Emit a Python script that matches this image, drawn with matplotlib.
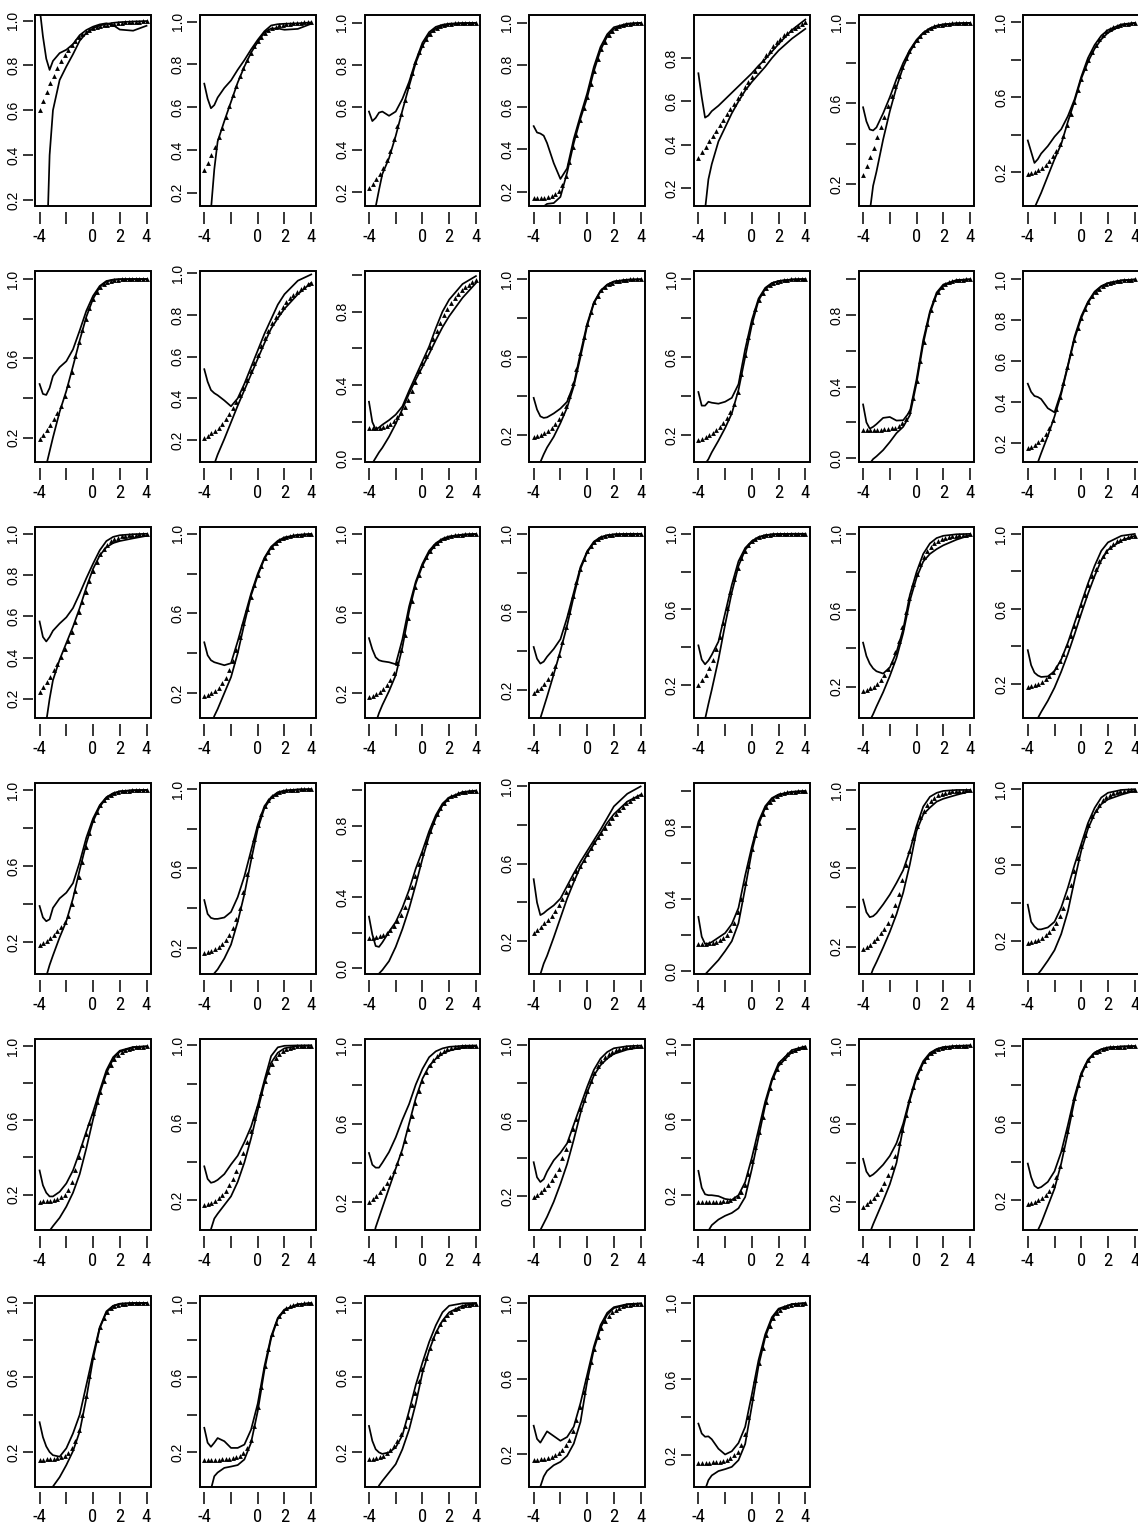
import numpy as np
import matplotlib
matplotlib.use("Agg")
import matplotlib.pyplot as plt
from matplotlib import font_manager as fm
from matplotlib.font_manager import FontProperties
from matplotlib.patches import Rectangle

# ---------------- data ----------------
x_lines = [-4, -3.75, -3.5, -3.25, -3, -2.5, -2, -1.5, -1, -0.5, 0, 0.5, 1, 1.5, 2, 3, 4]
x_points = np.linspace(-4, 4, 31)
x_ticks = [-4, -2, 0, 2, 4]
x_ticklabels = ["-4", "", "0", "2", "4"]

upper_band = [
    [1.06, 0.93, 0.83, 0.78, 0.82, 0.855, 0.87, 0.895, 0.935, 0.958, 0.973, 0.983, 0.988, 0.98, 0.96, 0.955, 0.977],
    [0.71, 0.64, 0.595, 0.61, 0.645, 0.69, 0.725, 0.775, 0.82, 0.87, 0.915, 0.955, 0.982, 0.988, 0.99, 0.992, 0.996],
    [0.58, 0.535, 0.55, 0.575, 0.58, 0.56, 0.58, 0.64, 0.72, 0.82, 0.905, 0.955, 0.98, 0.99, 0.995, 0.998, 0.999],
    [0.51, 0.48, 0.475, 0.465, 0.43, 0.335, 0.26, 0.31, 0.45, 0.56, 0.665, 0.79, 0.885, 0.945, 0.978, 0.995, 0.999],
    [0.73, 0.62, 0.525, 0.535, 0.555, 0.58, 0.61, 0.64, 0.67, 0.70, 0.73, 0.765, 0.795, 0.83, 0.865, 0.93, 0.978],
    [0.58, 0.51, 0.47, 0.465, 0.48, 0.55, 0.63, 0.72, 0.80, 0.865, 0.915, 0.95, 0.972, 0.985, 0.992, 0.997, 0.999],
    [0.37, 0.31, 0.25, 0.27, 0.30, 0.34, 0.39, 0.43, 0.50, 0.59, 0.71, 0.81, 0.88, 0.93, 0.96, 0.99, 0.998],
    [0.47, 0.42, 0.415, 0.45, 0.51, 0.555, 0.585, 0.645, 0.74, 0.84, 0.915, 0.965, 0.99, 0.997, 0.999, 1.0, 1.0],
    [0.54, 0.48, 0.44, 0.425, 0.415, 0.39, 0.362, 0.40, 0.47, 0.55, 0.63, 0.71, 0.78, 0.85, 0.90, 0.965, 0.995],
    [0.31, 0.20, 0.16, 0.17, 0.185, 0.21, 0.24, 0.285, 0.37, 0.45, 0.53, 0.61, 0.71, 0.80, 0.865, 0.95, 0.993],
    [0.39, 0.33, 0.295, 0.287, 0.29, 0.31, 0.335, 0.37, 0.46, 0.62, 0.77, 0.88, 0.94, 0.972, 0.988, 0.997, 0.999],
    [0.42, 0.35, 0.35, 0.37, 0.365, 0.36, 0.37, 0.39, 0.46, 0.64, 0.79, 0.90, 0.955, 0.98, 0.99, 0.998, 1.0],
    [0.30, 0.20, 0.165, 0.175, 0.19, 0.225, 0.23, 0.21, 0.212, 0.26, 0.44, 0.66, 0.82, 0.925, 0.97, 0.995, 0.999],
    [0.49, 0.45, 0.43, 0.425, 0.415, 0.37, 0.35, 0.45, 0.58, 0.72, 0.82, 0.89, 0.94, 0.967, 0.982, 0.995, 0.999],
    [0.575, 0.50, 0.478, 0.50, 0.53, 0.565, 0.595, 0.64, 0.71, 0.785, 0.855, 0.92, 0.965, 0.985, 0.993, 0.998, 1.0],
    [0.455, 0.39, 0.365, 0.355, 0.35, 0.34, 0.35, 0.46, 0.58, 0.70, 0.80, 0.88, 0.935, 0.965, 0.982, 0.995, 0.999],
    [0.476, 0.42, 0.38, 0.365, 0.36, 0.355, 0.345, 0.47, 0.635, 0.76, 0.85, 0.915, 0.953, 0.975, 0.987, 0.996, 0.999],
    [0.42, 0.36, 0.335, 0.345, 0.37, 0.41, 0.46, 0.57, 0.70, 0.83, 0.91, 0.96, 0.983, 0.993, 0.997, 1.0, 1.0],
    [0.41, 0.335, 0.31, 0.33, 0.36, 0.43, 0.58, 0.73, 0.855, 0.925, 0.962, 0.983, 0.993, 0.997, 0.999, 1.0, 1.0],
    [0.43, 0.36, 0.32, 0.295, 0.28, 0.268, 0.30, 0.38, 0.50, 0.68, 0.80, 0.895, 0.95, 0.978, 0.99, 0.998, 1.0],
    [0.38, 0.30, 0.26, 0.245, 0.237, 0.24, 0.268, 0.33, 0.42, 0.525, 0.63, 0.735, 0.83, 0.91, 0.955, 0.99, 1.0],
    [0.39, 0.33, 0.31, 0.32, 0.38, 0.43, 0.46, 0.51, 0.62, 0.75, 0.85, 0.92, 0.962, 0.983, 0.993, 0.999, 1.0],
    [0.44, 0.37, 0.35, 0.345, 0.345, 0.352, 0.38, 0.455, 0.56, 0.69, 0.82, 0.915, 0.96, 0.985, 0.993, 0.999, 1.0],
    [0.29, 0.19, 0.125, 0.12, 0.145, 0.205, 0.26, 0.34, 0.44, 0.56, 0.66, 0.77, 0.86, 0.925, 0.96, 0.99, 0.998],
    [0.52, 0.40, 0.335, 0.345, 0.36, 0.385, 0.42, 0.485, 0.55, 0.61, 0.665, 0.72, 0.775, 0.835, 0.895, 0.96, 0.998],
    [0.30, 0.19, 0.15, 0.152, 0.16, 0.185, 0.21, 0.26, 0.35, 0.53, 0.69, 0.83, 0.915, 0.96, 0.98, 0.995, 0.999],
    [0.44, 0.375, 0.35, 0.355, 0.37, 0.415, 0.465, 0.525, 0.59, 0.69, 0.815, 0.915, 0.965, 0.985, 0.995, 1.0, 1.0],
    [0.39, 0.30, 0.275, 0.26, 0.26, 0.27, 0.30, 0.375, 0.48, 0.60, 0.71, 0.82, 0.90, 0.955, 0.98, 0.995, 0.999],
    [0.33, 0.25, 0.21, 0.19, 0.19, 0.215, 0.26, 0.33, 0.43, 0.54, 0.645, 0.76, 0.87, 0.94, 0.975, 0.995, 0.999],
    [0.375, 0.31, 0.29, 0.295, 0.305, 0.335, 0.385, 0.43, 0.50, 0.58, 0.69, 0.82, 0.945, 0.99, 0.998, 1.0, 1.0],
    [0.45, 0.39, 0.375, 0.375, 0.40, 0.455, 0.53, 0.62, 0.70, 0.80, 0.88, 0.94, 0.97, 0.985, 0.993, 0.998, 1.0],
    [0.38, 0.30, 0.275, 0.29, 0.33, 0.39, 0.43, 0.48, 0.58, 0.68, 0.78, 0.87, 0.93, 0.965, 0.985, 0.996, 0.999],
    [0.33, 0.24, 0.205, 0.20, 0.20, 0.195, 0.18, 0.175, 0.20, 0.27, 0.40, 0.55, 0.70, 0.82, 0.905, 0.975, 0.995],
    [0.42, 0.355, 0.33, 0.34, 0.355, 0.39, 0.435, 0.50, 0.60, 0.73, 0.845, 0.92, 0.962, 0.982, 0.992, 0.998, 1.0],
    [0.39, 0.32, 0.275, 0.262, 0.268, 0.295, 0.35, 0.45, 0.59, 0.74, 0.86, 0.93, 0.967, 0.984, 0.993, 0.998, 1.0],
    [0.36, 0.28, 0.23, 0.20, 0.183, 0.175, 0.22, 0.30, 0.40, 0.56, 0.72, 0.87, 0.955, 0.985, 0.996, 1.0, 1.0],
    [0.33, 0.25, 0.228, 0.25, 0.275, 0.258, 0.222, 0.222, 0.24, 0.32, 0.46, 0.66, 0.82, 0.92, 0.965, 0.993, 0.999],
    [0.34, 0.26, 0.215, 0.198, 0.19, 0.198, 0.225, 0.29, 0.42, 0.56, 0.68, 0.79, 0.88, 0.95, 0.985, 0.998, 1.0],
    [0.35, 0.28, 0.26, 0.29, 0.32, 0.295, 0.27, 0.29, 0.345, 0.47, 0.62, 0.77, 0.885, 0.95, 0.98, 0.996, 1.0],
    [0.367, 0.315, 0.298, 0.30, 0.285, 0.235, 0.205, 0.222, 0.265, 0.35, 0.52, 0.70, 0.835, 0.925, 0.97, 0.994, 0.999],
]

icc_points = [
    [0.60, 0.64, 0.68, 0.72, 0.755, 0.79, 0.82, 0.845, 0.87, 0.89, 0.91, 0.925, 0.94, 0.95, 0.958, 0.965, 0.97, 0.975, 0.979, 0.982, 0.985, 0.987, 0.989, 0.991, 0.992, 0.993, 0.994, 0.995, 0.996, 0.997, 0.998],
    [0.305, 0.34, 0.375, 0.415, 0.46, 0.505, 0.555, 0.605, 0.655, 0.70, 0.745, 0.785, 0.82, 0.855, 0.885, 0.91, 0.93, 0.948, 0.96, 0.97, 0.977, 0.982, 0.986, 0.989, 0.991, 0.993, 0.994, 0.995, 0.996, 0.997, 0.997],
    [0.22, 0.24, 0.26, 0.285, 0.315, 0.35, 0.395, 0.45, 0.51, 0.57, 0.635, 0.70, 0.76, 0.815, 0.86, 0.895, 0.925, 0.948, 0.965, 0.976, 0.984, 0.989, 0.993, 0.995, 0.996, 0.997, 0.998, 0.998, 0.999, 0.999, 0.999],
    [0.168, 0.169, 0.170, 0.172, 0.175, 0.18, 0.19, 0.205, 0.23, 0.275, 0.34, 0.41, 0.47, 0.54, 0.595, 0.65, 0.71, 0.77, 0.83, 0.875, 0.91, 0.94, 0.96, 0.973, 0.982, 0.988, 0.992, 0.994, 0.996, 0.997, 0.998],
    [0.34, 0.365, 0.39, 0.415, 0.44, 0.465, 0.49, 0.515, 0.54, 0.565, 0.59, 0.615, 0.64, 0.665, 0.69, 0.715, 0.74, 0.765, 0.79, 0.815, 0.835, 0.855, 0.875, 0.89, 0.905, 0.918, 0.93, 0.94, 0.95, 0.958, 0.965],
    [0.245, 0.29, 0.335, 0.38, 0.43, 0.48, 0.53, 0.585, 0.635, 0.685, 0.735, 0.78, 0.825, 0.86, 0.89, 0.915, 0.935, 0.952, 0.965, 0.975, 0.982, 0.987, 0.99, 0.993, 0.995, 0.996, 0.997, 0.998, 0.998, 0.999, 0.999],
    [0.19, 0.195, 0.20, 0.21, 0.225, 0.24, 0.26, 0.285, 0.315, 0.35, 0.395, 0.45, 0.51, 0.575, 0.64, 0.70, 0.755, 0.80, 0.845, 0.88, 0.91, 0.935, 0.952, 0.965, 0.975, 0.982, 0.987, 0.991, 0.994, 0.996, 0.997],
    [0.195, 0.215, 0.24, 0.265, 0.295, 0.325, 0.36, 0.41, 0.465, 0.53, 0.61, 0.68, 0.745, 0.80, 0.855, 0.90, 0.935, 0.96, 0.975, 0.985, 0.991, 0.995, 0.997, 0.998, 0.999, 0.999, 1.0, 1.0, 1.0, 1.0, 1.0],
    [0.21, 0.22, 0.232, 0.245, 0.26, 0.278, 0.30, 0.325, 0.352, 0.383, 0.415, 0.45, 0.49, 0.53, 0.57, 0.61, 0.65, 0.69, 0.725, 0.76, 0.79, 0.815, 0.84, 0.862, 0.88, 0.897, 0.912, 0.925, 0.937, 0.947, 0.955],
    [0.165, 0.166, 0.167, 0.169, 0.173, 0.18, 0.19, 0.205, 0.225, 0.25, 0.28, 0.32, 0.37, 0.42, 0.475, 0.52, 0.56, 0.605, 0.65, 0.695, 0.74, 0.78, 0.815, 0.845, 0.872, 0.895, 0.915, 0.932, 0.947, 0.96, 0.97],
    [0.19, 0.195, 0.20, 0.21, 0.222, 0.237, 0.255, 0.28, 0.31, 0.35, 0.40, 0.465, 0.54, 0.62, 0.70, 0.77, 0.83, 0.88, 0.915, 0.942, 0.96, 0.973, 0.982, 0.988, 0.992, 0.995, 0.997, 0.998, 0.998, 0.999, 0.999],
    [0.175, 0.18, 0.19, 0.20, 0.21, 0.225, 0.24, 0.26, 0.285, 0.315, 0.36, 0.42, 0.51, 0.61, 0.70, 0.78, 0.845, 0.895, 0.93, 0.955, 0.97, 0.98, 0.987, 0.992, 0.995, 0.997, 0.998, 0.999, 0.999, 1.0, 1.0],
    [0.158, 0.158, 0.158, 0.159, 0.159, 0.16, 0.161, 0.163, 0.166, 0.171, 0.18, 0.195, 0.22, 0.265, 0.335, 0.43, 0.54, 0.65, 0.75, 0.83, 0.89, 0.93, 0.957, 0.973, 0.984, 0.99, 0.994, 0.996, 0.998, 0.999, 0.999],
    [0.175, 0.182, 0.192, 0.205, 0.222, 0.245, 0.275, 0.315, 0.365, 0.425, 0.495, 0.57, 0.64, 0.705, 0.76, 0.81, 0.855, 0.89, 0.918, 0.94, 0.955, 0.967, 0.976, 0.983, 0.988, 0.992, 0.994, 0.996, 0.997, 0.998, 0.999],
    [0.232, 0.255, 0.28, 0.308, 0.338, 0.37, 0.405, 0.44, 0.48, 0.525, 0.57, 0.62, 0.67, 0.72, 0.77, 0.82, 0.865, 0.90, 0.927, 0.948, 0.963, 0.974, 0.982, 0.987, 0.99, 0.993, 0.995, 0.996, 0.997, 0.998, 0.998],
    [0.183, 0.19, 0.20, 0.212, 0.228, 0.25, 0.278, 0.315, 0.36, 0.415, 0.48, 0.55, 0.62, 0.685, 0.745, 0.795, 0.84, 0.878, 0.91, 0.935, 0.953, 0.967, 0.977, 0.984, 0.989, 0.992, 0.995, 0.996, 0.997, 0.998, 0.999],
    [0.18, 0.186, 0.195, 0.205, 0.22, 0.24, 0.267, 0.30, 0.35, 0.415, 0.49, 0.575, 0.66, 0.735, 0.795, 0.845, 0.885, 0.915, 0.938, 0.955, 0.968, 0.977, 0.984, 0.989, 0.992, 0.994, 0.996, 0.997, 0.998, 0.998, 0.999],
    [0.185, 0.197, 0.212, 0.23, 0.255, 0.285, 0.325, 0.38, 0.445, 0.52, 0.60, 0.68, 0.755, 0.82, 0.87, 0.91, 0.94, 0.96, 0.974, 0.983, 0.989, 0.993, 0.996, 0.997, 0.998, 0.999, 0.999, 1.0, 1.0, 1.0, 1.0],
    [0.20, 0.225, 0.255, 0.29, 0.335, 0.39, 0.455, 0.53, 0.61, 0.69, 0.76, 0.82, 0.87, 0.91, 0.94, 0.96, 0.974, 0.983, 0.989, 0.993, 0.996, 0.997, 0.998, 0.999, 0.999, 1.0, 1.0, 1.0, 1.0, 1.0, 1.0],
    [0.175, 0.182, 0.19, 0.20, 0.215, 0.235, 0.26, 0.29, 0.33, 0.38, 0.44, 0.51, 0.59, 0.665, 0.735, 0.79, 0.84, 0.88, 0.91, 0.933, 0.95, 0.962, 0.972, 0.979, 0.984, 0.988, 0.991, 0.993, 0.995, 0.996, 0.997],
    [0.185, 0.189, 0.195, 0.202, 0.212, 0.225, 0.242, 0.263, 0.29, 0.32, 0.36, 0.405, 0.455, 0.51, 0.565, 0.62, 0.675, 0.725, 0.775, 0.815, 0.855, 0.885, 0.91, 0.93, 0.947, 0.96, 0.97, 0.978, 0.984, 0.988, 0.991],
    [0.186, 0.195, 0.206, 0.22, 0.237, 0.257, 0.28, 0.305, 0.34, 0.40, 0.47, 0.54, 0.62, 0.70, 0.775, 0.84, 0.885, 0.92, 0.945, 0.962, 0.975, 0.984, 0.99, 0.993, 0.995, 0.997, 0.998, 0.999, 0.999, 1.0, 1.0],
    [0.173, 0.177, 0.183, 0.192, 0.203, 0.218, 0.238, 0.265, 0.30, 0.345, 0.40, 0.48, 0.57, 0.665, 0.75, 0.82, 0.875, 0.915, 0.945, 0.965, 0.977, 0.985, 0.99, 0.994, 0.996, 0.997, 0.998, 0.999, 0.999, 1.0, 1.0],
    [0.168, 0.17, 0.174, 0.18, 0.188, 0.199, 0.214, 0.235, 0.263, 0.30, 0.345, 0.40, 0.455, 0.52, 0.585, 0.645, 0.71, 0.77, 0.82, 0.865, 0.90, 0.928, 0.95, 0.965, 0.975, 0.983, 0.988, 0.992, 0.994, 0.996, 0.997],
    [0.243, 0.258, 0.275, 0.293, 0.312, 0.332, 0.355, 0.385, 0.42, 0.455, 0.49, 0.525, 0.56, 0.59, 0.62, 0.65, 0.68, 0.71, 0.735, 0.76, 0.785, 0.81, 0.835, 0.855, 0.875, 0.893, 0.91, 0.925, 0.938, 0.95, 0.96],
    [0.15, 0.151, 0.152, 0.154, 0.157, 0.162, 0.17, 0.182, 0.20, 0.228, 0.268, 0.325, 0.40, 0.49, 0.585, 0.675, 0.755, 0.82, 0.87, 0.91, 0.937, 0.957, 0.971, 0.98, 0.987, 0.991, 0.994, 0.996, 0.997, 0.998, 0.999],
    [0.185, 0.196, 0.21, 0.226, 0.245, 0.267, 0.292, 0.322, 0.36, 0.41, 0.47, 0.54, 0.615, 0.69, 0.755, 0.815, 0.86, 0.895, 0.925, 0.945, 0.96, 0.972, 0.98, 0.986, 0.99, 0.993, 0.995, 0.996, 0.997, 0.998, 0.999],
    [0.187, 0.191, 0.197, 0.205, 0.215, 0.228, 0.245, 0.267, 0.295, 0.33, 0.375, 0.43, 0.495, 0.565, 0.635, 0.70, 0.76, 0.81, 0.855, 0.89, 0.918, 0.94, 0.956, 0.968, 0.977, 0.984, 0.988, 0.992, 0.994, 0.996, 0.997],
    [0.162, 0.163, 0.165, 0.168, 0.172, 0.178, 0.187, 0.20, 0.225, 0.27, 0.335, 0.405, 0.465, 0.525, 0.585, 0.64, 0.70, 0.755, 0.81, 0.86, 0.90, 0.93, 0.952, 0.967, 0.978, 0.985, 0.99, 0.993, 0.995, 0.997, 0.998],
    [0.175, 0.179, 0.185, 0.195, 0.21, 0.228, 0.25, 0.277, 0.31, 0.35, 0.395, 0.445, 0.50, 0.56, 0.625, 0.69, 0.755, 0.815, 0.865, 0.905, 0.935, 0.957, 0.972, 0.982, 0.988, 0.992, 0.995, 0.997, 0.998, 0.999, 0.999],
    [0.20, 0.215, 0.232, 0.25, 0.27, 0.295, 0.325, 0.36, 0.40, 0.45, 0.51, 0.575, 0.64, 0.705, 0.765, 0.82, 0.865, 0.90, 0.927, 0.947, 0.962, 0.973, 0.98, 0.986, 0.99, 0.993, 0.995, 0.996, 0.997, 0.998, 0.999],
    [0.195, 0.207, 0.222, 0.24, 0.26, 0.283, 0.31, 0.345, 0.40, 0.45, 0.50, 0.555, 0.61, 0.66, 0.71, 0.76, 0.81, 0.855, 0.89, 0.918, 0.94, 0.955, 0.966, 0.975, 0.982, 0.987, 0.99, 0.993, 0.995, 0.996, 0.997],
    [0.162, 0.162, 0.162, 0.163, 0.163, 0.164, 0.165, 0.167, 0.17, 0.175, 0.183, 0.197, 0.218, 0.255, 0.315, 0.385, 0.46, 0.54, 0.62, 0.70, 0.77, 0.83, 0.875, 0.91, 0.935, 0.955, 0.968, 0.977, 0.984, 0.989, 0.992],
    [0.175, 0.187, 0.202, 0.22, 0.242, 0.268, 0.298, 0.335, 0.38, 0.435, 0.50, 0.57, 0.645, 0.72, 0.785, 0.84, 0.885, 0.918, 0.942, 0.96, 0.972, 0.981, 0.987, 0.991, 0.994, 0.996, 0.997, 0.998, 0.999, 0.999, 1.0],
    [0.18, 0.185, 0.191, 0.20, 0.212, 0.228, 0.25, 0.28, 0.32, 0.38, 0.465, 0.56, 0.65, 0.73, 0.80, 0.855, 0.90, 0.93, 0.952, 0.967, 0.977, 0.984, 0.989, 0.993, 0.995, 0.997, 0.998, 0.998, 0.999, 0.999, 1.0],
    [0.158, 0.159, 0.16, 0.161, 0.163, 0.166, 0.171, 0.18, 0.195, 0.22, 0.26, 0.32, 0.40, 0.50, 0.61, 0.71, 0.80, 0.87, 0.92, 0.952, 0.972, 0.984, 0.99, 0.994, 0.997, 0.998, 0.999, 0.999, 1.0, 1.0, 1.0],
    [0.158, 0.158, 0.158, 0.159, 0.159, 0.16, 0.161, 0.163, 0.166, 0.172, 0.18, 0.195, 0.22, 0.265, 0.34, 0.44, 0.55, 0.66, 0.755, 0.835, 0.89, 0.93, 0.957, 0.973, 0.983, 0.99, 0.994, 0.996, 0.998, 0.999, 0.999],
    [0.16, 0.162, 0.166, 0.172, 0.181, 0.193, 0.21, 0.232, 0.26, 0.295, 0.34, 0.39, 0.45, 0.515, 0.58, 0.645, 0.705, 0.76, 0.81, 0.85, 0.885, 0.913, 0.935, 0.952, 0.965, 0.975, 0.982, 0.987, 0.991, 0.994, 0.996],
    [0.168, 0.169, 0.171, 0.174, 0.178, 0.184, 0.193, 0.205, 0.222, 0.245, 0.275, 0.32, 0.38, 0.45, 0.53, 0.61, 0.69, 0.76, 0.82, 0.87, 0.905, 0.933, 0.953, 0.967, 0.977, 0.984, 0.989, 0.992, 0.995, 0.996, 0.997],
    [0.16, 0.16, 0.161, 0.162, 0.163, 0.165, 0.168, 0.172, 0.177, 0.185, 0.20, 0.22, 0.255, 0.31, 0.40, 0.50, 0.595, 0.685, 0.765, 0.83, 0.88, 0.92, 0.947, 0.965, 0.977, 0.985, 0.99, 0.993, 0.996, 0.997, 0.998],
]

lower_band = [
    [-0.6, -0.3, -0.1, 0.40, 0.60, 0.735, 0.795, 0.85, 0.91, 0.945, 0.966, 0.978, 0.985, 0.99, 0.993, 0.996, 0.998],
    [-0.2, 0.0, 0.12, 0.31, 0.44, 0.535, 0.625, 0.715, 0.79, 0.855, 0.905, 0.95, 0.968, 0.968, 0.962, 0.966, 0.99],
    [-0.1, 0.03, 0.13, 0.21, 0.285, 0.36, 0.465, 0.585, 0.70, 0.81, 0.89, 0.945, 0.972, 0.985, 0.992, 0.997, 0.999],
    [0.10, 0.11, 0.12, 0.13, 0.142, 0.146, 0.175, 0.29, 0.43, 0.545, 0.645, 0.77, 0.87, 0.935, 0.97, 0.993, 0.998],
    [-0.1, 0.0, 0.10, 0.24, 0.31, 0.415, 0.48, 0.545, 0.60, 0.65, 0.69, 0.725, 0.76, 0.80, 0.835, 0.89, 0.935],
    [-0.2, -0.05, 0.06, 0.19, 0.26, 0.42, 0.56, 0.68, 0.78, 0.855, 0.91, 0.948, 0.97, 0.983, 0.99, 0.996, 0.999],
    [-0.1, -0.03, 0.01, 0.05, 0.09, 0.18, 0.27, 0.35, 0.47, 0.58, 0.70, 0.79, 0.86, 0.91, 0.945, 0.985, 0.997],
    [-0.1, -0.03, 0.06, 0.13, 0.20, 0.33, 0.435, 0.56, 0.69, 0.81, 0.90, 0.96, 0.987, 0.996, 0.999, 1.0, 1.0],
    [-0.05, 0.0, 0.04, 0.085, 0.13, 0.205, 0.285, 0.365, 0.44, 0.515, 0.59, 0.665, 0.735, 0.785, 0.83, 0.90, 0.955],
    [-0.05, -0.025, 0.005, 0.035, 0.06, 0.12, 0.19, 0.27, 0.355, 0.43, 0.50, 0.57, 0.645, 0.715, 0.775, 0.875, 0.955],
    [-0.02, 0.02, 0.06, 0.10, 0.135, 0.19, 0.26, 0.34, 0.45, 0.60, 0.76, 0.875, 0.938, 0.97, 0.986, 0.996, 0.999],
    [0.0, 0.03, 0.05, 0.075, 0.11, 0.17, 0.235, 0.31, 0.43, 0.60, 0.765, 0.89, 0.95, 0.978, 0.99, 0.998, 1.0],
    [-0.1, -0.07, -0.03, -0.005, 0.01, 0.045, 0.09, 0.14, 0.175, 0.24, 0.42, 0.64, 0.81, 0.915, 0.965, 0.993, 0.999],
    [-0.05, 0.0, 0.05, 0.105, 0.15, 0.235, 0.33, 0.44, 0.575, 0.71, 0.81, 0.885, 0.935, 0.965, 0.98, 0.994, 0.999],
    [-0.1, 0.0, 0.09, 0.20, 0.29, 0.39, 0.47, 0.55, 0.64, 0.74, 0.83, 0.895, 0.935, 0.955, 0.965, 0.978, 0.99],
    [-0.05, 0.0, 0.04, 0.085, 0.12, 0.20, 0.28, 0.40, 0.55, 0.69, 0.79, 0.875, 0.93, 0.96, 0.978, 0.993, 0.998],
    [-0.05, 0.0, 0.05, 0.10, 0.14, 0.21, 0.29, 0.43, 0.61, 0.75, 0.84, 0.905, 0.945, 0.97, 0.983, 0.995, 0.999],
    [-0.05, 0.0, 0.055, 0.11, 0.165, 0.28, 0.40, 0.53, 0.68, 0.82, 0.905, 0.955, 0.98, 0.992, 0.997, 0.999, 1.0],
    [-0.1, -0.02, 0.02, 0.10, 0.175, 0.335, 0.52, 0.69, 0.83, 0.915, 0.958, 0.981, 0.992, 0.997, 0.999, 1.0, 1.0],
    [-0.05, 0.0, 0.02, 0.055, 0.095, 0.17, 0.255, 0.35, 0.48, 0.65, 0.77, 0.855, 0.895, 0.92, 0.94, 0.97, 0.993],
    [-0.05, -0.03, -0.01, 0.017, 0.05, 0.11, 0.18, 0.265, 0.36, 0.465, 0.575, 0.68, 0.775, 0.86, 0.915, 0.965, 0.99],
    [-0.1, -0.03, 0.02, 0.08, 0.13, 0.225, 0.31, 0.43, 0.58, 0.72, 0.835, 0.912, 0.958, 0.98, 0.992, 0.998, 1.0],
    [0.0, 0.02, 0.045, 0.07, 0.09, 0.145, 0.215, 0.33, 0.47, 0.64, 0.80, 0.905, 0.955, 0.98, 0.992, 0.998, 1.0],
    [-0.1, -0.08, -0.06, -0.03, -0.01, 0.04, 0.12, 0.22, 0.335, 0.47, 0.615, 0.745, 0.845, 0.915, 0.955, 0.988, 0.997],
    [-0.15, -0.07, 0.03, 0.085, 0.125, 0.22, 0.32, 0.42, 0.505, 0.585, 0.645, 0.70, 0.755, 0.81, 0.855, 0.92, 0.955],
    [-0.05, -0.04, -0.02, 0.0, 0.02, 0.06, 0.11, 0.165, 0.265, 0.46, 0.665, 0.815, 0.905, 0.955, 0.978, 0.994, 0.999],
    [-0.05, 0.0, 0.04, 0.085, 0.12, 0.195, 0.275, 0.365, 0.475, 0.62, 0.79, 0.875, 0.91, 0.94, 0.955, 0.975, 0.993],
    [-0.05, -0.03, -0.01, 0.023, 0.045, 0.095, 0.15, 0.235, 0.355, 0.52, 0.675, 0.79, 0.87, 0.92, 0.945, 0.97, 0.99],
    [-0.1, -0.07, -0.03, 0.005, 0.03, 0.075, 0.135, 0.21, 0.31, 0.45, 0.605, 0.745, 0.855, 0.93, 0.97, 0.993, 0.998],
    [-0.1, 0.0, 0.05, 0.105, 0.13, 0.175, 0.22, 0.295, 0.395, 0.52, 0.665, 0.805, 0.91, 0.962, 0.985, 0.997, 0.999],
    [-0.1, -0.01, 0.07, 0.12, 0.17, 0.27, 0.37, 0.47, 0.60, 0.73, 0.83, 0.895, 0.932, 0.958, 0.973, 0.99, 0.997],
    [-0.1, -0.03, 0.02, 0.055, 0.09, 0.17, 0.265, 0.37, 0.50, 0.64, 0.75, 0.84, 0.895, 0.93, 0.955, 0.978, 0.99],
    [-0.1, -0.05, -0.01, 0.01, 0.04, 0.07, 0.09, 0.105, 0.13, 0.19, 0.34, 0.51, 0.68, 0.81, 0.89, 0.965, 0.99],
    [-0.05, 0.0, 0.04, 0.085, 0.125, 0.205, 0.29, 0.40, 0.58, 0.72, 0.835, 0.91, 0.955, 0.978, 0.989, 0.997, 0.999],
    [-0.05, 0.0, 0.02, 0.043, 0.08, 0.17, 0.26, 0.39, 0.55, 0.72, 0.85, 0.925, 0.965, 0.983, 0.992, 0.998, 1.0],
    [-0.1, -0.07, -0.04, -0.01, 0.015, 0.065, 0.13, 0.205, 0.31, 0.49, 0.70, 0.865, 0.95, 0.983, 0.995, 0.999, 1.0],
    [-0.2, -0.1, 0.0, 0.07, 0.09, 0.115, 0.122, 0.13, 0.16, 0.25, 0.42, 0.64, 0.81, 0.915, 0.96, 0.992, 0.999],
    [-0.1, -0.06, -0.02, 0.02, 0.045, 0.09, 0.135, 0.215, 0.32, 0.46, 0.625, 0.745, 0.84, 0.905, 0.95, 0.985, 0.996],
    [-0.15, -0.05, 0.027, 0.08, 0.11, 0.14, 0.158, 0.19, 0.255, 0.37, 0.585, 0.755, 0.87, 0.94, 0.975, 0.994, 0.999],
    [-0.15, -0.05, 0.02, 0.07, 0.095, 0.118, 0.128, 0.14, 0.175, 0.26, 0.46, 0.67, 0.82, 0.915, 0.965, 0.993, 0.999],
]

y_limits = [
    (0.173, 1.025), (0.138, 1.031), (0.134, 1.036), (0.132, 1.036), (0.117, 0.999), (0.09, 1.038), (0.02, 1.04),
    (0.076, 1.04), (0.094, 1.011), (-0.018, 1.02), (0.06, 1.041), (0.06, 1.041), (-0.022, 1.045), (0.107, 1.04),
    (0.106, 1.032), (0.074, 1.033), (0.074, 1.033), (0.055, 1.034), (0.025, 1.035), (0.034, 1.035), (0.017, 1.036),
    (0.031, 1.035), (0.065, 1.03), (-0.034, 1.039), (0.03, 1.014), (-0.019, 1.042), (0.058, 1.034), (0.023, 1.03),
    (0.007, 1.036), (0.044, 1.031), (0.054, 1.031), (0.018, 1.032), (0.012, 1.032), (0.054, 1.031), (0.043, 1.035),
    (0.015, 1.04), (0.015, 1.04), (0.015, 1.04), (0.027, 1.042), (0.037, 1.039),
]

label_every = [
    1, 1, 1, 1, 1, 2, 2,
    2, 1, 2, 2, 2, 2, 1,
    1, 2, 2, 2, 2, 2, 2,
    2, 2, 2, 2, 2, 2, 2,
    2, 2, 2, 2, 2, 2, 2,
    2, 2, 2, 2, 2,
]

for k in range(40):
    assert len(upper_band[k]) == len(x_lines), ("upper", k)
    assert len(lower_band[k]) == len(x_lines), ("lower", k)
    assert len(icc_points[k]) == len(x_points), ("points", k)

# ---------------- fonts ----------------
def pick_narrow_font():
    prefs = ["liberation sans narrow", "arial narrow", "roboto condensed",
             "open sans condensed", "dejavu sans condensed", "noto sans condensed"]
    found = {}
    for f in fm.fontManager.ttflist:
        n = f.name.lower()
        fn = f.fname.lower()
        w = f.weight if isinstance(f.weight, int) else 400
        if f.style != "normal" or w > 500 or w < 350:
            continue
        stretchy = ("narrow" in n or "condensed" in n or "condensed" in fn or "narrow" in fn
                    or str(f.stretch) in ("condensed", "semi-condensed"))
        if not stretchy:
            continue
        if "mono" in n or ("serif" in n and "sans" not in n):
            continue
        key = n
        if "dejavu" in n and "condensed" in fn:
            key = "dejavu sans condensed"
        found.setdefault(key, f.fname)
    for p in prefs:
        if p in found:
            return found[p]
    return None

narrow_path = pick_narrow_font()
if narrow_path is not None:
    xprop = FontProperties(fname=narrow_path, size=13.5)
else:
    xprop = FontProperties(family="Liberation Sans", size=12.0)
yprop = FontProperties(family="Liberation Sans", size=10.0)

# ---------------- layout ----------------
W, H = 1138, 1524
fig = plt.figure(figsize=(W / 100, H / 100), dpi=100)
fig.patch.set_facecolor("white")

col_left0, col_step, ax_w = 35.3, 164.7, 115.5
row_top0, row_step, ax_h = 15.0, 256.1, 191.0

for k in range(40):
    r, c = divmod(k, 7)
    left = col_left0 + c * col_step
    top = row_top0 + r * row_step
    ax = fig.add_axes([left / W, 1 - (top + ax_h) / H, ax_w / W, ax_h / H])

    ax.plot(x_points, icc_points[k], linestyle="none", marker="^", ms=3.5,
            mew=0, color="black", zorder=3)
    ax.plot(x_lines, upper_band[k], color="black", lw=1.25, zorder=2)
    ax.plot(x_lines, lower_band[k], color="black", lw=1.25, zorder=2)

    lo, hi = y_limits[k]
    ax.set_xlim(-4.32, 4.32)
    ax.set_ylim(lo, hi)

    yt = [round(v * 0.2, 1) for v in range(0, 6) if lo - 1e-9 <= v * 0.2 <= hi + 1e-9]
    step = label_every[k]
    ylabels = [("%.1f" % v) if i % step == 0 else "" for i, v in enumerate(yt)]

    for s in ("top", "right"):
        ax.spines[s].set_visible(False)
    ax.spines["bottom"].set_position(("outward", 4))
    ax.spines["left"].set_position(("outward", 2))
    ax.spines["bottom"].set_color("none")
    ax.spines["left"].set_color("none")
    ax.add_patch(Rectangle((0, 0), 1, 1, transform=ax.transAxes, fill=False,
                           lw=1.4, edgecolor="black", clip_on=False, zorder=5))

    ax.set_xticks(x_ticks)
    ax.set_xticklabels(x_ticklabels, fontproperties=xprop)
    ax.set_yticks(yt)
    ax.set_yticklabels(ylabels, fontproperties=yprop, rotation=90, va="center")
    ax.tick_params(axis="x", direction="out", length=8.6, width=1.1, pad=3.2, colors="black")
    ax.tick_params(axis="y", direction="out", length=7.0, width=1.1, pad=2.0, colors="black")
    ax.minorticks_off()
    ax.set_facecolor("white")

fig.savefig("out.png", dpi=100, facecolor="white")
